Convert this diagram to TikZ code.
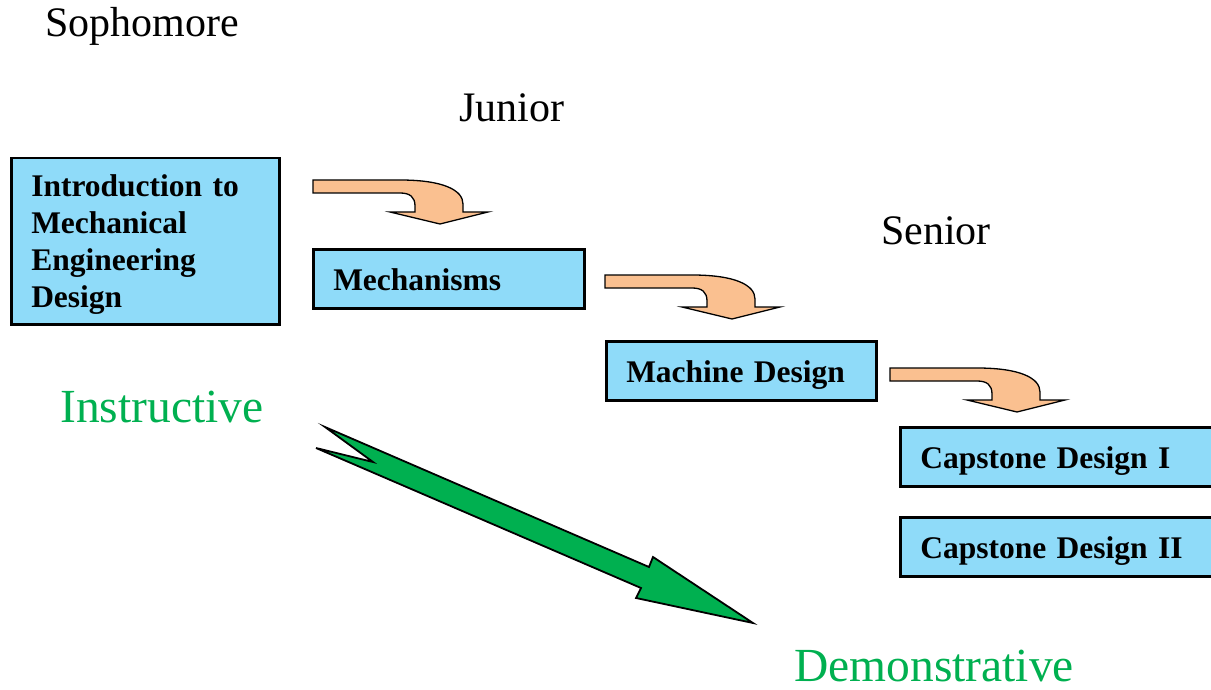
\documentclass[tikz,border=0pt]{standalone}
\usepackage{fontspec}
\setmainfont{Liberation Serif}
\definecolor{boxblue}{RGB}{143,219,249}
\definecolor{peach}{RGB}{250,192,144}
\definecolor{leafgreen}{RGB}{0,176,80}

\begin{document}
\begin{tikzpicture}[x=1pt,y=-1pt,
  course/.style={draw=black, line width=2.5pt, fill=boxblue, anchor=north west,
    align=left, inner xsep=20pt, inner ysep=0pt,
    font=\fontsize{31.5}{37}\selectfont\bfseries, text height=24pt, text depth=0pt},
  year/.style={anchor=base west, inner sep=0pt, font=\fontsize{42}{48}\selectfont},
  mode/.style={anchor=base west, inner sep=0pt, text=leafgreen,
    font=\fontsize{47.5}{54}\selectfont},
  turn/.pic={
    \filldraw[fill=peach, draw=black, line width=1.3pt, line join=miter]
      (0,0) -- (87,0) .. controls (130,0) and (150,10) .. (150,24) -- (150,32)
      -- (175,32) -- (127,44) -- (77,32) -- (102,32) -- (102,26)
      .. controls (102,17) and (97,13) .. (87,13) -- (0,13) -- cycle;
  }
]
\useasboundingbox (0,0) rectangle (1211,690);
\clip (0,0) rectangle (1211,690);

% year labels
\node[year] (soph) at (45,37) {Sophomore};
\node[year] (jun) at (459,122) {Junior};
\node[year] (sen) at (881,244) {Senior};

% course boxes
\node[course, text width=228pt, minimum height=166pt, text depth=114pt] (intro) at (10,157)
  {Introduction to\\Mechanical\\Engineering\\Design};
\node[course, text width=231pt, minimum height=59pt] (mech) at (312,248) {Mechanisms};
\node[course, text width=230pt, minimum height=59pt] (mach) at (605,340) {Machine Design};
\node[course, text width=274pt, minimum height=59pt] (capA) at (899,426) {Capstone Design I};
\node[course, text width=274pt, minimum height=59pt] (capB) at (899,516) {Capstone Design II};

% turning arrows between successive years
\pic at (313,180) {turn};
\pic at (605,275) {turn};
\pic at (890,368) {turn};

% teaching style
\node[mode] (instr) at (60,422) {Instructive};
\node[mode] (demo) at (794,681) {Demonstrative};

% broad arrow from instructive to demonstrative
\filldraw[fill=leafgreen, draw=black, line width=1.8pt, line join=miter]
  (325,427) -- (649,567) -- (653,557) -- (753,623) -- (636,598) -- (641,588)
  -- (316,448) -- (373,462) -- cycle;
\end{tikzpicture}
\end{document}
